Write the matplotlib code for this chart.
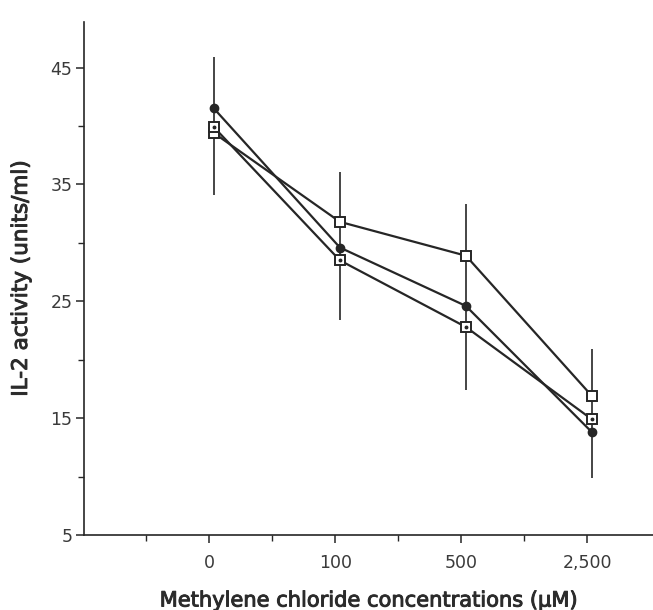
import matplotlib
matplotlib.use("Agg")
import matplotlib.pyplot as plt
import matplotlib.patheffects as pe
import numpy as np

plt.rcParams['font.family'] = ['DejaVu Sans']

categories = ["0", "100", "500", "2,500"]
xpos = [1, 2, 3, 4]
series_circle = [41.5, 29.6, 24.6, 13.8]
series_open_sq = [39.4, 31.8, 28.9, 16.9]
series_dot_sq = [39.9, 28.5, 22.8, 14.9]
err_low = [34.1, 23.4, 17.4, 9.9]
err_high = [45.9, 36.1, 33.3, 20.9]
yticks = [5, 15, 25, 35, 45]
yminor = [10, 20, 30, 40]
xminor = [0.5, 1.5, 2.5, 3.5]

col = '#262626'
fig = plt.figure(figsize=(6.53, 6.10), dpi=100)
ax = fig.add_axes([83.5/653, 75/610, 1 - 83.5/653, 513/610])

xp = np.array(xpos) + 0.035  # points sit slightly right of the ticks
ax.vlines(xp, err_low, err_high, color=col, lw=1.2, zorder=1)
ax.plot(xp, series_circle, '-', color=col, lw=1.6, marker='o', ms=6,
        mfc=col, mec=col, zorder=3)
ax.plot(xp, series_open_sq, '-', color=col, lw=1.6, marker='s', ms=7,
        mfc='white', mec=col, mew=1.4, zorder=3)
ax.plot(xp, series_dot_sq, '-', color=col, lw=1.6, marker='s', ms=7,
        mfc='white', mec=col, mew=1.4, zorder=3)
ax.plot(xp, series_dot_sq, ls='none', marker='o', ms=1.8, mfc=col, mec=col, zorder=4)

ax.set_xlim(0, 4.52)
ax.set_ylim(5, 48.9)
ax.set_xticks(xpos)
ax.set_xticklabels(categories)
ax.set_xticks(xminor, minor=True)
ax.set_yticks(yticks)
ax.set_yticks(yminor, minor=True)

for s in ['top', 'right']:
    ax.spines[s].set_visible(False)
for s in ['left', 'bottom']:
    ax.spines[s].set_color(col)
    ax.spines[s].set_linewidth(1.2)

ax.tick_params(axis='both', which='major', length=6, width=1.1, color=col,
               labelsize=12.5, labelcolor='#3a3a3a')
ax.tick_params(axis='x', which='major', pad=8)
ax.tick_params(axis='y', which='major', pad=2)
ax.tick_params(axis='both', which='minor', length=4, width=1.0, color=col)

stroke = [pe.withStroke(linewidth=0.7, foreground='#2b2b2b')]
ax.set_xlabel('Methylene chloride concentrations (μM)', fontsize=15.1,
              color='#2b2b2b', labelpad=13, path_effects=stroke)
ax.set_ylabel('IL-2 activity (units/ml)', fontsize=15.5,
              color='#2b2b2b', labelpad=14, path_effects=stroke)

fig.savefig('out.png', dpi=100)
